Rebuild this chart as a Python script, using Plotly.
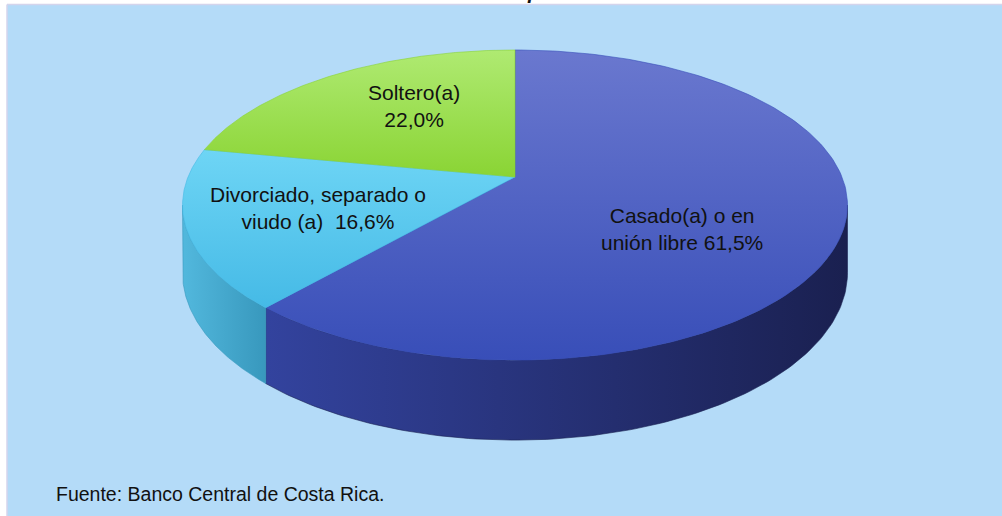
import numpy as np
import plotly.graph_objects as go

# ---- data ----
categories = ["Casado(a) o en unión libre", "Divorciado, separado o viudo (a)", "Soltero(a)"]
values = [61.5, 16.6, 22.0]
value_labels = ["61,5%", "16,6%", "22,0%"]
label_text = ["Casado(a) o en<br>unión libre 61,5%",
              "Divorciado, separado o<br>viudo (a)  16,6%",
              "Soltero(a)<br>22,0%"]
source_note = "Fuente: Banco Central de Costa Rica."
title_fragment = "p"  # only the descender of the cropped title is visible

# ---- styles ----
top_colors = [("#6A78CF", "#384EB8"), ("#6ED5F5", "#45BAE6"), ("#AFEA72", "#8AD434")]
side_colors = [("#33439E", "#1A2050"), ("#52B8DD", "#3898BD"), ("#7FC03A", "#5E9A22")]
label_pos = [(682, 229), (318, 208), (414, 106)]
BG = "#B4DBF8"
EDGE = "#D4D4EC"

# ---- projection geometry (pixel space) ----
CX, CY = 515.0, 177.0
SX, SY = 327.0, 150.0
K = 0.181
T = 65.5


def proj(a, depth=0.0):
    X = np.sin(a)
    Z = np.cos(a)
    w = 1 + K * Z
    return CX + SX * X / w, CY - SY * Z / w + depth * T / w


fig = go.Figure()

total = float(sum(values))
bounds = np.concatenate([[0], np.cumsum(values)]) / total * 2 * np.pi
a_right = np.arccos(-K)
a_left = 2 * np.pi - a_right

# sides (front visible wall)
for i in range(len(values)):
    lo = max(bounds[i], a_right)
    hi = min(bounds[i + 1], a_left)
    if hi <= lo:
        continue
    aa = np.linspace(lo, hi, 120)
    xt, yt = proj(aa)
    xb, yb = proj(aa[::-1], 1.0)
    xs = np.concatenate([xt, xb, xt[:1]])
    ys = np.concatenate([yt, yb, yt[:1]])
    c0, c1 = side_colors[i]
    fig.add_trace(go.Scatter(
        x=xs, y=ys, mode="lines", fill="toself",
        line=dict(width=0.6, color=c1),
        fillgradient=dict(type="horizontal", colorscale=[[0, c0], [1, c1]],
                          start=float(xs.min()), stop=float(xs.max())),
        hoverinfo="skip", showlegend=False))

# top faces
for i in range(len(values)):
    aa = np.linspace(bounds[i], bounds[i + 1], 200)
    xa, ya = proj(aa)
    xs = np.concatenate([[CX], xa, [CX]])
    ys = np.concatenate([[CY], ya, [CY]])
    c0, c1 = top_colors[i]
    fig.add_trace(go.Scatter(
        x=xs, y=ys, mode="lines", fill="toself",
        line=dict(width=0.6, color=c1),
        fillgradient=dict(type="vertical", colorscale=[[0, c0], [1, c1]],
                          start=float(ys.min()), stop=float(ys.max())),
        name=categories[i], hoverinfo="skip", showlegend=False))

for i in range(len(values)):
    fig.add_annotation(x=label_pos[i][0], y=label_pos[i][1], text=label_text[i],
                       showarrow=False, xref="x", yref="y",
                       font=dict(family="Liberation Sans, Arial", size=21, color="#111111"),
                       align="center", xanchor="center", yanchor="middle")

fig.add_annotation(x=54, y=494, text=source_note, showarrow=False, xref="x", yref="y",
                   font=dict(family="Liberation Sans, Arial", size=19.5, color="#111111"),
                   xanchor="left", yanchor="middle")

fig.add_annotation(x=533, y=5, text="<b><i>" + title_fragment + "</i></b>", showarrow=False,
                   xref="x", yref="y",
                   font=dict(family="Liberation Sans, Arial", size=20, color="#111111"),
                   xanchor="center", yanchor="bottom")

fig.add_shape(type="rect", xref="x", yref="y", x0=7, x1=1010, y0=4.5, y1=530,
              fillcolor=BG, line=dict(width=0), layer="below")
fig.add_shape(type="line", xref="x", yref="y", x0=7, x1=1010, y0=4.5, y1=4.5,
              line=dict(color=EDGE, width=1.5), layer="below")
fig.add_shape(type="line", xref="x", yref="y", x0=7, x1=7, y0=4.5, y1=530,
              line=dict(color=EDGE, width=1.5), layer="below")

fig.update_layout(
    width=1002, height=516,
    margin=dict(l=0, r=0, t=0, b=0),
    paper_bgcolor="white", plot_bgcolor="white",
    xaxis=dict(range=[0, 1002], visible=False, fixedrange=True),
    yaxis=dict(range=[516, 0], visible=False, fixedrange=True),
    showlegend=False,
)

fig.write_html("out.html", config={"displayModeBar": False},
               post_script="document.body.style.margin='0';document.body.style.overflow='hidden';")
